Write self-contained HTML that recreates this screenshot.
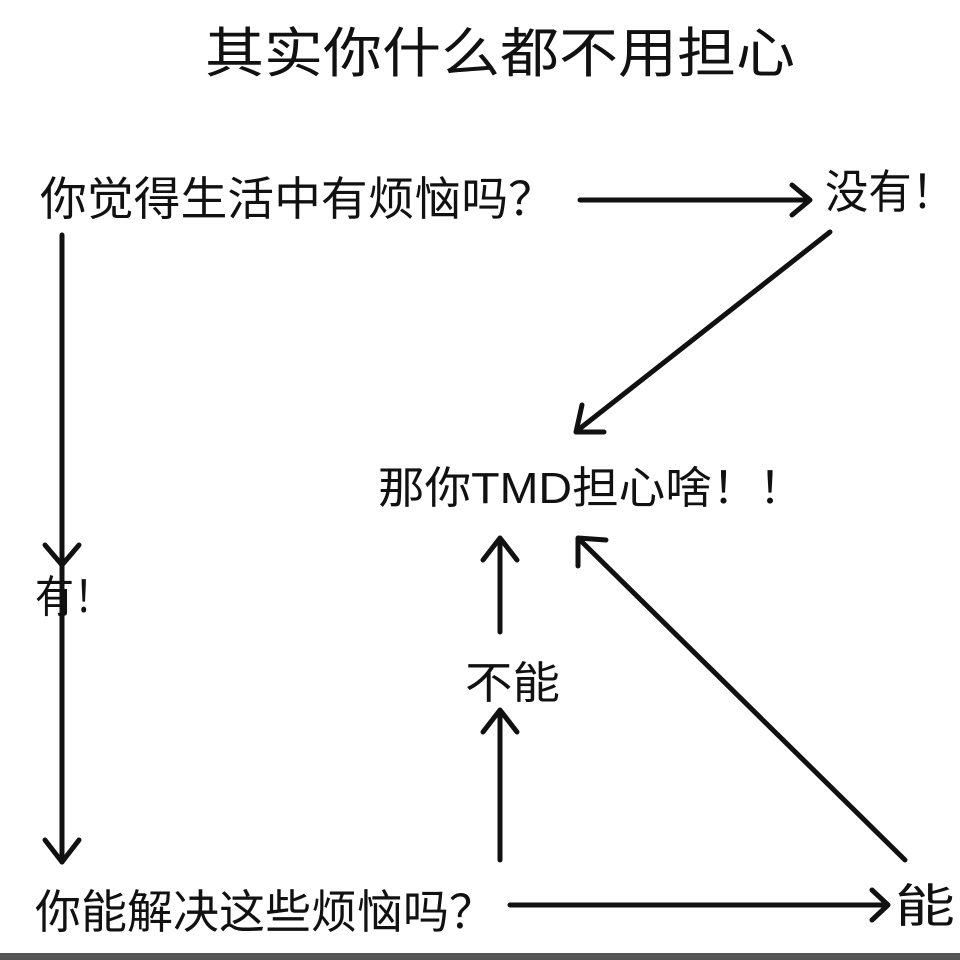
<!DOCTYPE html>
<html><head><meta charset="utf-8"><style>
html,body{margin:0;padding:0;background:#fff;}
svg{display:block;}
text{font-family:"Liberation Sans","Noto Sans CJK SC",sans-serif;fill:#111;}
</style></head><body>
<svg width="960" height="960" viewBox="0 0 960 960" xmlns="http://www.w3.org/2000/svg">
<rect width="960" height="960" fill="#fff"/>
<text x="205" y="72" font-size="54" textLength="590" lengthAdjust="spacingAndGlyphs">其实你什么都不用担心</text>
<text x="40" y="215" font-size="46" textLength="515" lengthAdjust="spacingAndGlyphs">你觉得生活中有烦恼吗？</text>
<text x="825" y="208" font-size="46" textLength="130" lengthAdjust="spacingAndGlyphs">没有！</text>
<text x="378" y="503" font-size="44" textLength="427" lengthAdjust="spacingAndGlyphs">那你TMD担心啥！！</text>
<text x="35" y="612" font-size="44" textLength="78" lengthAdjust="spacingAndGlyphs">有！</text>
<text x="465" y="698" font-size="44" textLength="95" lengthAdjust="spacingAndGlyphs">不能</text>
<text x="35" y="928" font-size="46" textLength="460" lengthAdjust="spacingAndGlyphs">你能解决这些烦恼吗？</text>
<text x="895" y="922" font-size="46" textLength="60" lengthAdjust="spacingAndGlyphs">能</text>
<g stroke="#111" stroke-width="5" fill="none" stroke-linecap="round" stroke-linejoin="round">
<line x1="580" y1="200" x2="808" y2="200"/>
<polyline points="792,185 810,200 792,215"/>
<line x1="830" y1="232" x2="578" y2="430"/>
<polyline points="582,405 576,432 604,432"/>
<line x1="62" y1="235" x2="62" y2="862"/>
<polyline points="45,545 62,565 79,545"/>
<polyline points="45,840 62,862 79,840"/>
<line x1="500" y1="632" x2="500" y2="540"/>
<polyline points="483,560 500,538 517,560"/>
<line x1="500" y1="860" x2="500" y2="712"/>
<polyline points="483,732 500,710 517,732"/>
<line x1="905" y1="860" x2="580" y2="540"/>
<polyline points="578,566 578,538 606,540"/>
<line x1="510" y1="905" x2="886" y2="905"/>
<polyline points="872,890 888,905 872,920"/>
</g>
<rect x="0" y="953" width="960" height="7" fill="#555"/>
</svg>
</body></html>
